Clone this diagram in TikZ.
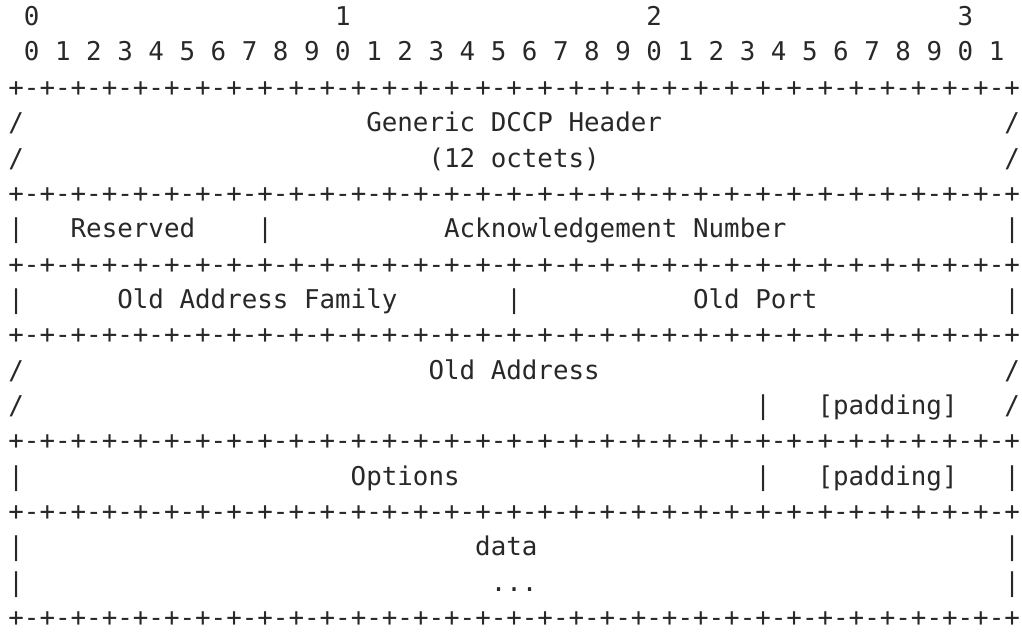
\documentclass[tikz,border=0pt]{standalone}
\usepackage{fontspec}
\usepackage{tikz}
\usetikzlibrary{positioning}

\newfontfamily\asciifont{DejaVu Sans Mono}
\definecolor{inkgray}{RGB}{40,40,40}
\newcommand{\borderline}{+-+-+-+-+-+-+-+-+-+-+-+-+-+-+-+-+-+-+-+-+-+-+-+-+-+-+-+-+-+-+-+-+}

\begin{document}
\begin{tikzpicture}[x=15.56pt,y=-35.35pt,
    cell/.style={anchor=base west,inner sep=0pt,text=inkgray,
      font=\asciifont\fontsize{25.85pt}{35.4pt}\selectfont}]
  \useasboundingbox (0pt,0pt) rectangle (1022pt,-632pt);
  \begin{scope}[shift={(8.2pt,-25.6pt)}]
  % bit ruler
  \node[cell] (tens0) at (1,0)  {0};
  \node[cell] (tens1) at (21,0) {1};
  \node[cell] (tens2) at (41,0) {2};
  \node[cell] (tens3) at (61,0) {3};
  \node[cell] (bits)  at (1,1)  {0 1 2 3 4 5 6 7 8 9 0 1 2 3 4 5 6 7 8 9 0 1 2 3 4 5 6 7 8 9 0 1};

  % borders between the fields
  \foreach \r in {2,5,7,9,12,14,17}
    \node[cell] (border\r) at (0,\r) {\borderline};

  % generic header
  \node[cell] (hdrL1)  at (0,3)  {/};
  \node[cell] (hdr)    at (23,3) {Generic DCCP Header};
  \node[cell] (hdrR1)  at (64,3) {/};
  \node[cell] (hdrL2)  at (0,4)  {/};
  \node[cell] (hdrlen) at (27,4) {(12 octets)};
  \node[cell] (hdrR2)  at (64,4) {/};

  % reserved and ack
  \node[cell] (ackL)  at (0,6)  {|};
  \node[cell] (resv)  at (4,6)  {Reserved};
  \node[cell] (ackM)  at (16,6) {|};
  \node[cell] (ack)   at (28,6) {Acknowledgement Number};
  \node[cell] (ackR)  at (64,6) {|};

  % old family and port
  \node[cell] (famL)  at (0,8)  {|};
  \node[cell] (fam)   at (7,8)  {Old Address Family};
  \node[cell] (famM)  at (32,8) {|};
  \node[cell] (port)  at (44,8) {Old Port};
  \node[cell] (famR)  at (64,8) {|};

  % old address
  \node[cell] (addrL1) at (0,10)  {/};
  \node[cell] (addr)   at (27,10) {Old Address};
  \node[cell] (addrR1) at (64,10) {/};
  \node[cell] (addrL2) at (0,11)  {/};
  \node[cell] (addrM)  at (48,11) {|};
  \node[cell] (addrpad) at (52,11) {[padding]};
  \node[cell] (addrR2) at (64,11) {/};

  % options
  \node[cell] (optL)   at (0,13)  {|};
  \node[cell] (opt)    at (22,13) {Options};
  \node[cell] (optM)   at (48,13) {|};
  \node[cell] (optpad) at (52,13) {[padding]};
  \node[cell] (optR)   at (64,13) {|};

  % payload
  \node[cell] (dataL1) at (0,15)  {|};
  \node[cell] (data)   at (30,15) {data};
  \node[cell] (dataR1) at (64,15) {|};
  \node[cell] (dataL2) at (0,16)  {|};
  \node[cell] (dots)   at (31,16) {...};
  \node[cell] (dataR2) at (64,16) {|};
  \end{scope}
\end{tikzpicture}
\end{document}
